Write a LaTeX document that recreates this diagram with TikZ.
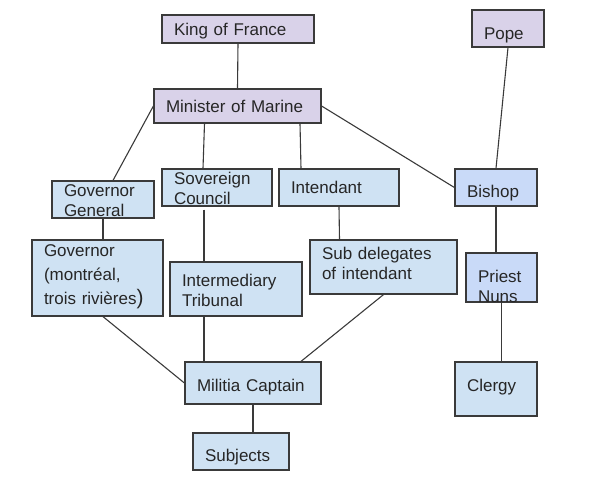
\documentclass[tikz,border=0pt]{standalone}
\usepackage{fontspec}
\setmainfont{Liberation Sans}
\usetikzlibrary{calc}
\definecolor{royal}{HTML}{D9D2E9}
\definecolor{colony}{HTML}{CFE2F3}
\definecolor{church}{HTML}{C9DAF8}
\definecolor{edge}{HTML}{3A3A3A}

\begin{document}
\begin{tikzpicture}[x=1pt,y=-1pt,
    box/.style={draw=edge,line width=1.2pt,fill=colony,inner xsep=12pt,inner ysep=0pt,
      align=left,text=black!85,font=\fontsize{17}{20}\selectfont,text height=12pt,text depth=0pt},
    link/.style={draw=edge,line width=1.1pt}]
    \useasboundingbox (0,0) rectangle (590,480);
    % crown and church
    \node at (238,29) [box,fill=royal,minimum width=152pt,minimum height=28pt,text width=128pt] (king) {King of France};
    \node at (237.5,106) [box,fill=royal,minimum width=167pt,minimum height=34pt,text width=143pt] (min) {Minister of Marine};
    \node at (508,28.5) [box,fill=royal,minimum width=72pt,minimum height=37pt,text width=48pt,text height=21pt] (pope) {Pope};
    % colony
    \node at (103,199.5) [box,minimum width=102pt,minimum height=37pt,text width=78pt,text height=0pt,text depth=5.6pt] (gg) {Governor\\General};
    \node at (217,187.5) [box,minimum width=110pt,minimum height=37pt,text width=86pt,text height=0pt,text depth=7pt] (sc) {Sovereign\\Council};
    \node at (339,187.5) [box,minimum width=120pt,minimum height=37pt,text width=96pt] (int) {Intendant};
    \node at (496,187.5) [box,fill=church,minimum width=82pt,minimum height=37pt,text width=58pt,text height=19.6pt] (bishop) {Bishop};
    \node at (97.5,278) [box,minimum width=131pt,minimum height=76pt,text width=107pt,text height=0pt,text depth=42.6pt] (gov) {Governor\\[4pt](montréal,\\[4pt]trois rivières{\fontsize{21}{20}\selectfont)}};
    \node at (236,289) [box,minimum width=132pt,minimum height=54pt,text width=108pt,text height=0pt,text depth=6pt] (trib) {Intermediary\\Tribunal};
    \node at (383.5,267) [box,minimum width=147pt,minimum height=54pt,text width=123pt,text height=0pt,text depth=16pt] (sub) {Sub delegates\\of intendant};
    \node at (501.5,277.5) [box,fill=church,minimum width=71pt,minimum height=49pt,text width=47pt,text height=9.6pt] (priest) {Priest\\Nuns};
    \node at (253,383) [box,minimum width=136pt,minimum height=42pt,text width=112pt,text height=17.4pt] (mil) {Militia Captain};
    \node at (496,389) [box,minimum width=82pt,minimum height=54pt,text width=58pt,text height=5.4pt] (clergy) {Clergy};
    \node at (241,451.5) [box,minimum width=96pt,minimum height=37pt,text width=72pt,text height=20.4pt] (subj) {Subjects};
    % links
    \draw[link] (king.south) -- (min.north);
    \draw[link] (min.west) -- ($(gg.north)+(10,0)$);
    \draw[link] ($(min.south)+(-33,0)$) -- ($(sc.north)+(-14,0)$);
    \draw[link] ($(min.south)+(62.5,0)$) -- ($(int.north)+(-38,0)$);
    \draw[link] (min.east) -- (bishop.west);
    \draw[link] (pope.south) -- (bishop.north);
    \draw[link] (gg.south) -- ($(gov.north)+(5.5,0)$);
    \draw[link] ($(sc.south)+(-13,3)$) -- ($(trib.north)+(-32,0)$);
    \draw[link] (int.south) -- ($(sub.north)+(-44,0)$);
    \draw[link] (bishop.south) -- ($(priest.north)+(-5.5,0)$);
    \draw[link] (priest.south) -- ($(clergy.north)+(5.5,0)$);
    \draw[link] ($(gov.south)+(5.5,0)$) -- (mil.west);
    \draw[link] ($(trib.south)+(-32,0)$) -- ($(mil.north)+(-49,0)$);
    \draw[link] (sub.south) -- ($(mil.north)+(48,0)$);
    \draw[link] (mil.south) -- ($(subj.north)+(12,0)$);
\end{tikzpicture}
\end{document}
